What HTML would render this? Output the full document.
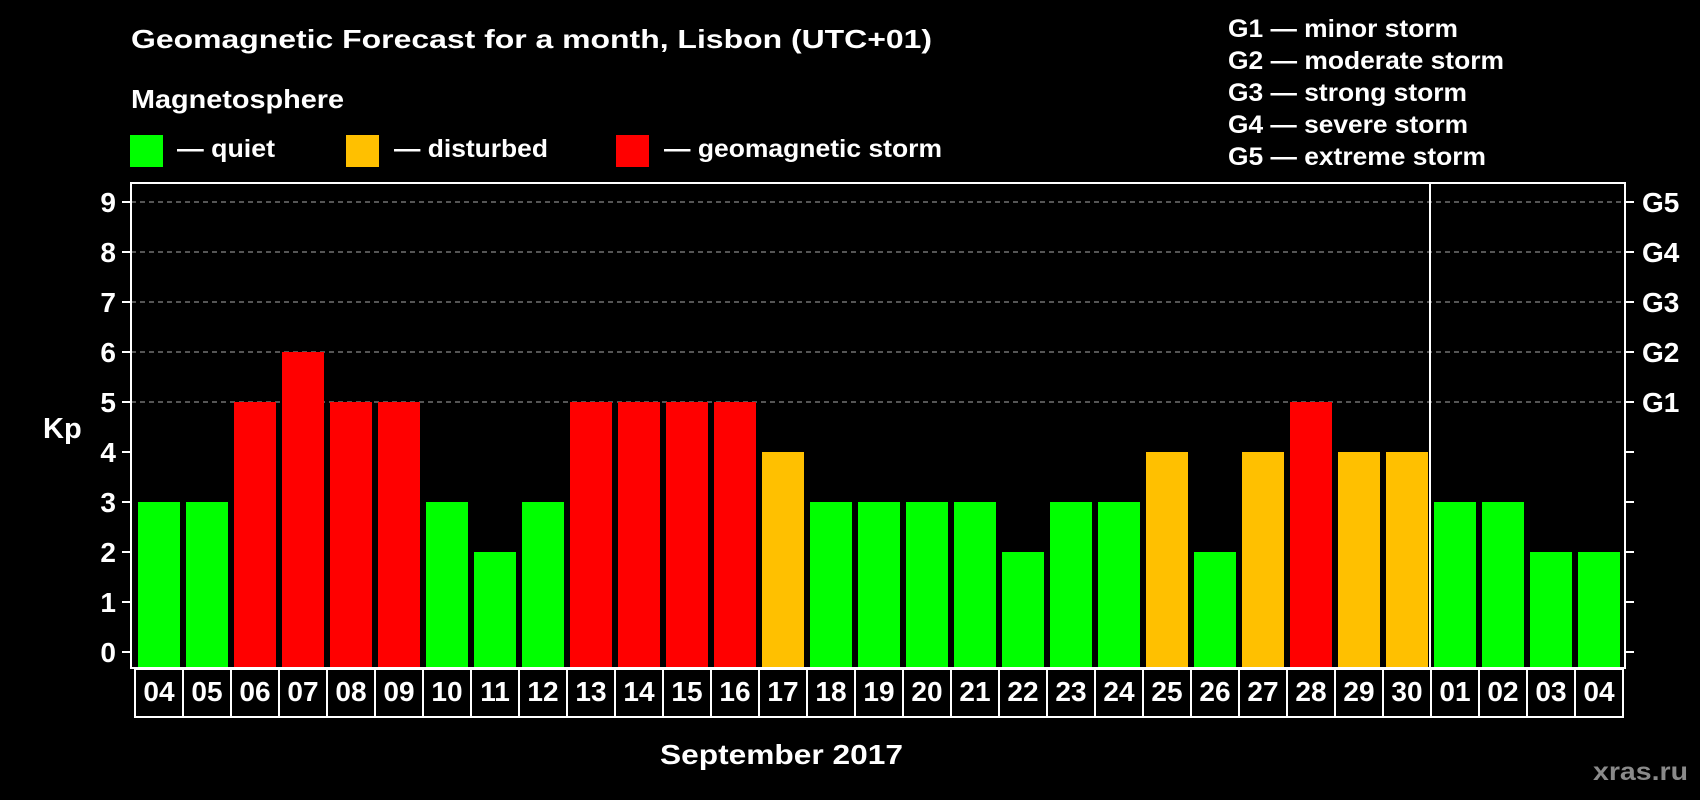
<!DOCTYPE html>
<html><head><meta charset="utf-8"><style>
html,body{margin:0;padding:0;background:#000;}
svg{display:block;font-family:"Liberation Sans",Arial,sans-serif;font-weight:bold;}
</style></head><body>
<svg id="chart" width="1700" height="800" viewBox="0 0 1700 800" xmlns="http://www.w3.org/2000/svg">
<rect width="1700" height="800" fill="#000"/>
<text x="131" y="48" fill="#fff" font-size="26" textLength="801" lengthAdjust="spacingAndGlyphs">Geomagnetic Forecast for a month, Lisbon (UTC+01)</text>
<text x="131" y="108" fill="#fff" font-size="26" textLength="213" lengthAdjust="spacingAndGlyphs">Magnetosphere</text>
<g><rect x="130" y="135" width="33" height="32" fill="#00ff00"/><text x="177" y="157" fill="#fff" font-size="25" textLength="98" lengthAdjust="spacingAndGlyphs">— quiet</text></g>
<g><rect x="346" y="135" width="33" height="32" fill="#ffc000"/><text x="394" y="157" fill="#fff" font-size="25" textLength="154" lengthAdjust="spacingAndGlyphs">— disturbed</text></g>
<g><rect x="616" y="135" width="33" height="32" fill="#ff0000"/><text x="664" y="157" fill="#fff" font-size="25" textLength="278" lengthAdjust="spacingAndGlyphs">— geomagnetic storm</text></g>
<g fill="#fff" font-size="25">
<text x="1228" y="37" textLength="230" lengthAdjust="spacingAndGlyphs">G1 — minor storm</text>
<text x="1228" y="69" textLength="276" lengthAdjust="spacingAndGlyphs">G2 — moderate storm</text>
<text x="1228" y="101" textLength="239" lengthAdjust="spacingAndGlyphs">G3 — strong storm</text>
<text x="1228" y="133" textLength="240" lengthAdjust="spacingAndGlyphs">G4 — severe storm</text>
<text x="1228" y="165" textLength="258" lengthAdjust="spacingAndGlyphs">G5 — extreme storm</text>
</g>
<g id="plot"></g>
<text x="43" y="438" fill="#fff" font-size="29">Kp</text>
<text x="660" y="764" fill="#fff" font-size="28" textLength="243" lengthAdjust="spacingAndGlyphs">September 2017</text>
<text x="1593" y="780" fill="#8a8a8a" font-size="25" textLength="95" lengthAdjust="spacingAndGlyphs">xras.ru</text>
</svg>
<script>
const days=["04","05","06","07","08","09","10","11","12","13","14","15","16","17","18","19","20","21","22","23","24","25","26","27","28","29","30","01","02","03","04"];
const kp=[3,3,5,6,5,5,3,2,3,5,5,5,5,4,3,3,3,3,2,3,3,4,2,4,5,4,4,3,3,2,2];
const yTicks=[0,1,2,3,4,5,6,7,8,9];
const gLabels=["","","","","","G1","G2","G3","G4","G5"];
const NS="http://www.w3.org/2000/svg";
const g=document.getElementById('plot');
const L=131,R=1625,T=183,B=668,y0=652,unit=50,slot=48,x0=135;
const y=v=>y0-v*unit;
const x=i=>x0+slot*i;
function mk(t,a){const e=document.createElementNS(NS,t);for(const k in a)e.setAttribute(k,a[k]);g.appendChild(e);return e;}
yTicks.forEach((v,i)=>{
 if(v>=5){const gl=mk('line',{x1:L,x2:R,y1:y(v),y2:y(v),stroke:'#888','stroke-width':1.2,'stroke-dasharray':'5,4'});
 
 }
 const t1=mk('line',{x1:L-9,x2:L,y1:y(v),y2:y(v),stroke:'#fff','stroke-width':2});
 
 
 const t2=mk('line',{x1:R,x2:R+9,y1:y(v),y2:y(v),stroke:'#fff','stroke-width':2});
 
 
 const tl=mk('text',{x:116,y:y(v)+10,fill:'#fff','font-size':28,'text-anchor':'end'});tl.textContent=v;
 
 
 if(gLabels[i]){const gt=mk('text',{x:1642,y:y(v)+10,fill:'#fff','font-size':28});gt.textContent=gLabels[i];
 
 }
});
kp.forEach((v,i)=>{
 const c=v>=5?'#ff0000':(v>=4?'#ffc000':'#00ff00');
 const b=mk('rect',{x:x(i)+3,y:y(v),width:42,height:B-1-y(v),fill:c});
 
 
 const bx=mk('rect',{x:x(i),y:B+1,width:slot,height:48,fill:'none',stroke:'#fff','stroke-width':2});
 
 
 const dt=mk('text',{x:x(i)+slot/2,y:701,fill:'#fff','font-size':28,'text-anchor':'middle'});dt.textContent=days[i];
 
 
});
const fr=mk('rect',{x:L,y:T,width:R-L,height:B-T,fill:'none',stroke:'#fff','stroke-width':2});


const sep=mk('line',{x1:x(27)-1,x2:x(27)-1,y1:T,y2:B,stroke:'#fff','stroke-width':2});


</script>
</body></html>
